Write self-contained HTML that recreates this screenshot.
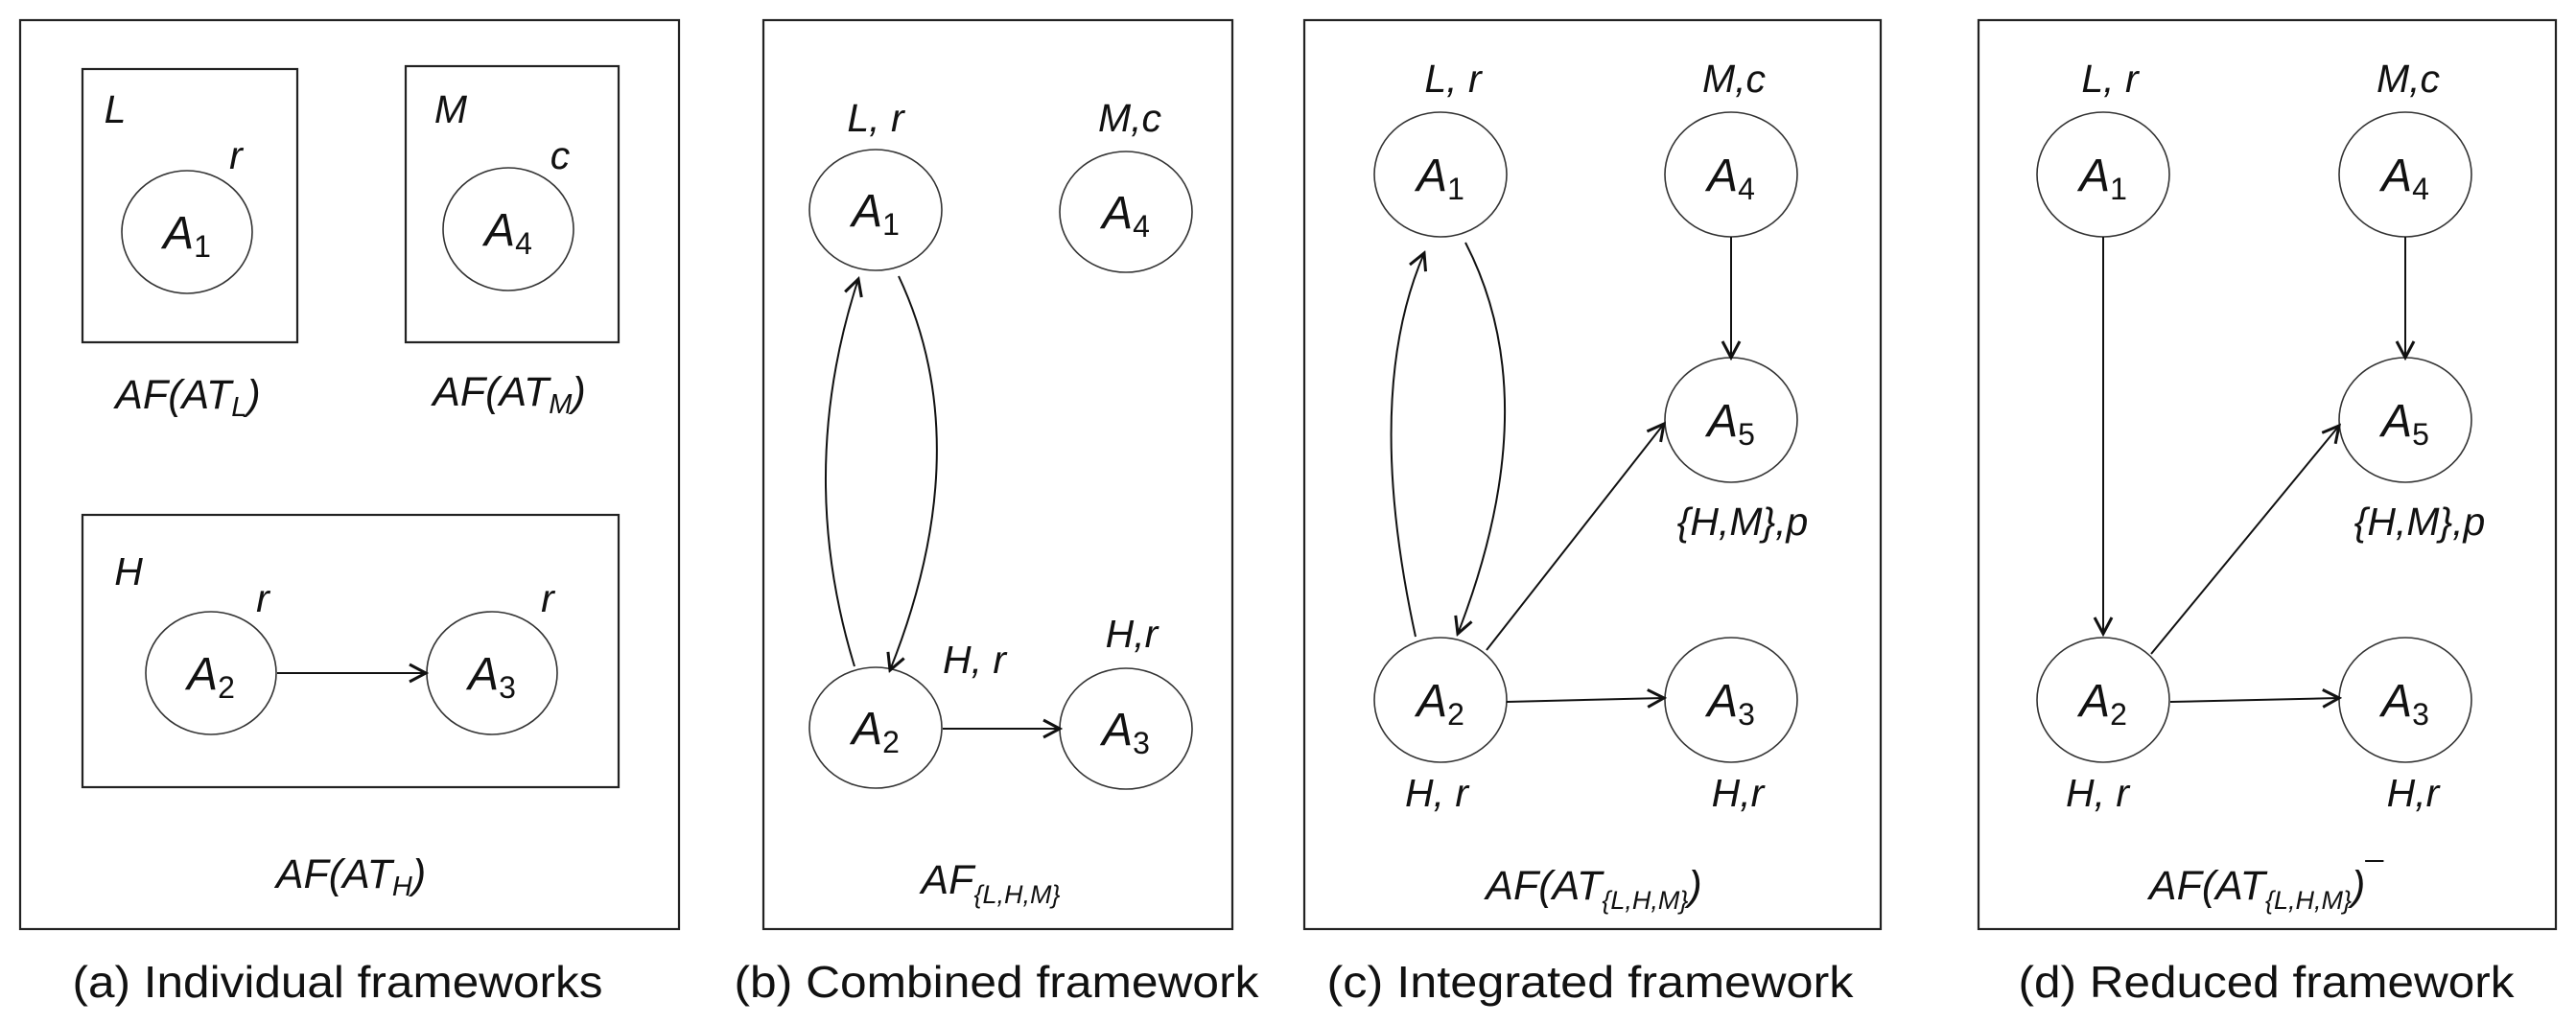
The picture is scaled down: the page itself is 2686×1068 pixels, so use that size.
<!DOCTYPE html>
<html><head><meta charset="utf-8"><style>
html,body{margin:0;padding:0;background:#fff;}
svg{display:block;}
text{font-family:"Liberation Sans",sans-serif;fill:#111;}
.i{font-style:italic;}
.n{font-style:normal;}
</style></head><body>
<svg width="2686" height="1068" viewBox="0 0 2686 1068" xmlns="http://www.w3.org/2000/svg">
<defs>
<marker id="ar" markerWidth="24" markerHeight="24" refX="21" refY="12" orient="auto" markerUnits="userSpaceOnUse">
<path d="M4,3 L21,12 L4,21" fill="none" stroke="#111" stroke-width="3"/>
</marker>
</defs>
<g fill="none" stroke="#222" stroke-width="2.2">
<rect x="21" y="21" width="687" height="948"/>
<rect x="796" y="21" width="489" height="948"/>
<rect x="1360" y="21" width="601" height="948"/>
<rect x="2063" y="21" width="602" height="948"/>
<rect x="86" y="72" width="224" height="285"/>
<rect x="423" y="69" width="222" height="288"/>
<rect x="86" y="537" width="559" height="284"/>
</g>
<g fill="none" stroke="#333" stroke-width="1.6">
<ellipse cx="195" cy="242" rx="68" ry="64"/>
<ellipse cx="530" cy="239" rx="68" ry="64"/>
<ellipse cx="220" cy="702" rx="68" ry="64"/>
<ellipse cx="513" cy="702" rx="68" ry="64"/>
<ellipse cx="913" cy="219" rx="69" ry="63"/>
<ellipse cx="1174" cy="221" rx="69" ry="63"/>
<ellipse cx="913" cy="759" rx="69" ry="63"/>
<ellipse cx="1174" cy="760" rx="69" ry="63"/>
<ellipse cx="1502" cy="182" rx="69" ry="65"/>
<ellipse cx="1805" cy="182" rx="69" ry="65"/>
<ellipse cx="1805" cy="438" rx="69" ry="65"/>
<ellipse cx="1502" cy="730" rx="69" ry="65"/>
<ellipse cx="1805" cy="730" rx="69" ry="65"/>
<ellipse cx="2193" cy="182" rx="69" ry="65"/>
<ellipse cx="2508" cy="182" rx="69" ry="65"/>
<ellipse cx="2508" cy="438" rx="69" ry="65"/>
<ellipse cx="2193" cy="730" rx="69" ry="65"/>
<ellipse cx="2508" cy="730" rx="69" ry="65"/>
</g>
<g fill="none" stroke="#111" stroke-width="2" marker-end="url(#ar)">
<line x1="289" y1="702" x2="444" y2="702"/>
<path d="M937,288 Q1021,466 928,699"/>
<path d="M891,695 Q829,493 895,291"/>
<line x1="983" y1="760" x2="1105" y2="760"/>
<path d="M1476,664 Q1421,412 1485,264"/>
<path d="M1528,253 Q1614,419 1520,661"/>
<line x1="1550" y1="678" x2="1735" y2="442"/>
<line x1="1805" y1="247" x2="1805" y2="373"/>
<line x1="1571" y1="732" x2="1735" y2="728"/>
<line x1="2193" y1="247" x2="2193" y2="661"/>
<line x1="2243" y1="682" x2="2439" y2="444"/>
<line x1="2263" y1="732" x2="2439" y2="728"/>
<line x1="2508" y1="247" x2="2508" y2="373"/>
</g>
<g class="i" font-size="48" text-anchor="middle">
<text x="195" y="259">A<tspan class="n" font-size="32" dy="9">1</tspan></text>
<text x="530" y="256">A<tspan class="n" font-size="32" dy="9">4</tspan></text>
<text x="220" y="719">A<tspan class="n" font-size="32" dy="9">2</tspan></text>
<text x="513" y="719">A<tspan class="n" font-size="32" dy="9">3</tspan></text>
<text x="913" y="236">A<tspan class="n" font-size="32" dy="9">1</tspan></text>
<text x="1174" y="238">A<tspan class="n" font-size="32" dy="9">4</tspan></text>
<text x="913" y="776">A<tspan class="n" font-size="32" dy="9">2</tspan></text>
<text x="1174" y="777">A<tspan class="n" font-size="32" dy="9">3</tspan></text>
<text x="1502" y="199">A<tspan class="n" font-size="32" dy="9">1</tspan></text>
<text x="1805" y="199">A<tspan class="n" font-size="32" dy="9">4</tspan></text>
<text x="1805" y="455">A<tspan class="n" font-size="32" dy="9">5</tspan></text>
<text x="1502" y="747">A<tspan class="n" font-size="32" dy="9">2</tspan></text>
<text x="1805" y="747">A<tspan class="n" font-size="32" dy="9">3</tspan></text>
<text x="2193" y="199">A<tspan class="n" font-size="32" dy="9">1</tspan></text>
<text x="2508" y="199">A<tspan class="n" font-size="32" dy="9">4</tspan></text>
<text x="2508" y="455">A<tspan class="n" font-size="32" dy="9">5</tspan></text>
<text x="2193" y="747">A<tspan class="n" font-size="32" dy="9">2</tspan></text>
<text x="2508" y="747">A<tspan class="n" font-size="32" dy="9">3</tspan></text>
</g>
<g class="i" font-size="41" text-anchor="middle">
<text x="120" y="128">L</text>
<text x="246" y="176">r</text>
<text x="470" y="128">M</text>
<text x="584" y="176">c</text>
<text x="134" y="610">H</text>
<text x="274" y="638">r</text>
<text x="571" y="638">r</text>
<text x="913" y="137">L, r</text>
<text x="1178" y="137">M,c</text>
<text x="1016" y="702">H, r</text>
<text x="1180" y="675">H,r</text>
<text x="1515" y="96">L, r</text>
<text x="1808" y="96">M,c</text>
<text x="1817" y="558">{H,M},p</text>
<text x="1498" y="841">H, r</text>
<text x="1812" y="841">H,r</text>
<text x="2200" y="96">L, r</text>
<text x="2511" y="96">M,c</text>
<text x="2523" y="558">{H,M},p</text>
<text x="2187" y="841">H, r</text>
<text x="2516" y="841">H,r</text>
</g>
<g class="i" font-size="43" text-anchor="middle">
<text x="196" y="426">AF(AT<tspan font-size="29" dy="8">L</tspan><tspan dy="-8">)</tspan></text>
<text x="531" y="423">AF(AT<tspan font-size="29" dy="8">M</tspan><tspan dy="-8">)</tspan></text>
<text x="366" y="926">AF(AT<tspan font-size="29" dy="8">H</tspan><tspan dy="-8">)</tspan></text>
<text x="1033" y="932">AF<tspan font-size="27" dy="10">{L,H,M}</tspan></text>
<text x="1662" y="938">AF(AT<tspan font-size="27" dy="10">{L,H,M}</tspan><tspan dy="-10">)</tspan></text>
<text x="2363" y="938">AF(AT<tspan font-size="27" dy="10">{L,H,M}</tspan><tspan dy="-10">)</tspan><tspan dy="-14" font-size="34">¯</tspan></text>
</g>
<g font-size="46" text-anchor="middle">
<text x="352" y="1040" textLength="553" lengthAdjust="spacingAndGlyphs">(a) Individual frameworks</text>
<text x="1039" y="1040" textLength="547" lengthAdjust="spacingAndGlyphs">(b) Combined framework</text>
<text x="1658" y="1040" textLength="549" lengthAdjust="spacingAndGlyphs">(c) Integrated framework</text>
<text x="2363" y="1040" textLength="517" lengthAdjust="spacingAndGlyphs">(d) Reduced framework</text>
</g>
</svg>
</body></html>
